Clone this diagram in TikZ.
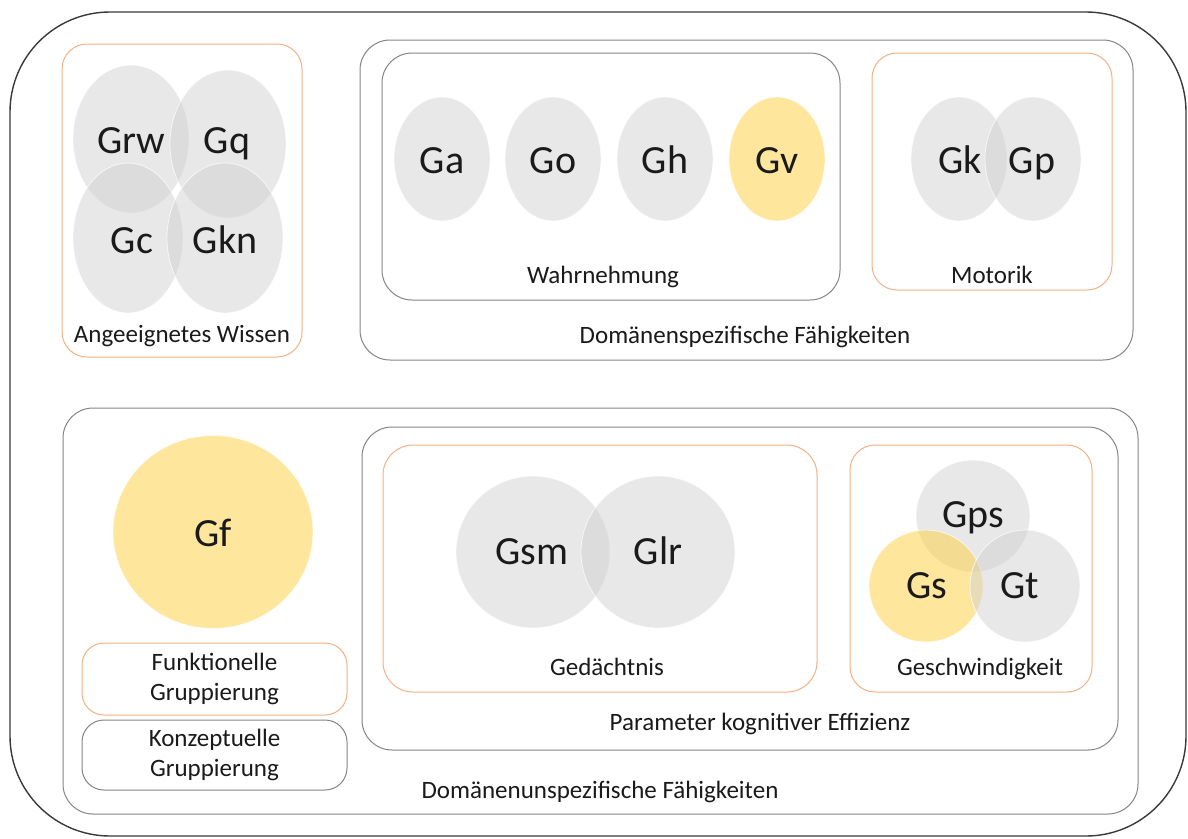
\documentclass[tikz,border=0pt]{standalone}
\usepackage{fontspec}
\setmainfont{Carlito}
\usetikzlibrary{shapes.geometric}
\definecolor{outerc}{HTML}{3A3A3A}
\definecolor{grayc}{HTML}{858585}
\definecolor{orangec}{HTML}{F4B183}
\definecolor{gfill}{RGB}{210,210,210}
\definecolor{yfill}{RGB}{255,207,60}
\definecolor{txt}{HTML}{1A1A1A}
\tikzset{
  outerbox/.style={draw=outerc, line width=1.4pt, rounded corners=100pt, inner sep=0pt},
  graybox/.style={draw=grayc, line width=1pt, rounded corners=#1, inner sep=0pt},
  graybox/.default=30pt,
  orangebox/.style={draw=orangec, line width=1pt, rounded corners=#1, inner sep=0pt},
  orangebox/.default=25pt,
  gcirc/.style={ellipse, inner sep=0pt, fill=gfill, fill opacity=0.5, draw=white, draw opacity=0.7, line width=0.8pt},
  ycirc/.style={ellipse, inner sep=0pt, fill=yfill, fill opacity=0.5, draw=white, draw opacity=0.7, line width=0.8pt},
  big/.style={anchor=base, inner sep=0pt, text=txt, font=\fontsize{40}{48}\selectfont},
  small/.style={anchor=base, inner sep=0pt, text=txt, font=\fontsize{25}{30}\selectfont},
  smallc/.style={text=txt, font=\fontsize{25}{30}\selectfont, align=center},
}
\begin{document}
\begin{tikzpicture}[x=1pt, y=-1pt]
\useasboundingbox (0,0) rectangle (1188,838);
\fill[white] (0,0) rectangle (1188,838);
% outer frame
\node[outerbox, minimum width=1176pt, minimum height=824pt] (outer) at (598,424) {};
% upper containers
\node[orangebox, minimum width=240pt, minimum height=313pt] (aw) at (182,200.5) {};
\node[graybox, minimum width=773pt, minimum height=320pt] (ds) at (746.5,200) {};
\node[graybox, minimum width=458pt, minimum height=247pt] (wn) at (611,176.5) {};
\node[orangebox, minimum width=240pt, minimum height=237pt] (mo) at (992,171.5) {};
% lower containers
\node[graybox, minimum width=1075pt, minimum height=406pt] (du) at (600.5,611) {};
\node[orangebox=22pt, minimum width=265pt, minimum height=72pt, smallc] (fg) at (214.5,679) {Funktionelle\\Gruppierung};
\node[graybox=22pt, minimum width=265pt, minimum height=70pt, smallc] (kg) at (214.5,755) {Konzeptuelle\\Gruppierung};
\node[graybox, minimum width=756pt, minimum height=323pt] (pk) at (740,588.5) {};
\node[orangebox=30pt, minimum width=434pt, minimum height=247pt] (gd) at (600,568.5) {};
\node[orangebox, minimum width=242pt, minimum height=247pt] (gs) at (971,568.5) {};
% ellipses: acquired knowledge
\node[gcirc, minimum width=116pt, minimum height=148pt] (grw) at (131,139) {};
\node[gcirc, minimum width=116pt, minimum height=148pt] (gq) at (228,144) {};
\node[gcirc, minimum width=110pt, minimum height=150pt] (gc) at (128,238) {};
\node[gcirc, minimum width=116pt, minimum height=150pt] (gkn) at (225,238) {};
% perception
\node[gcirc, minimum width=96pt, minimum height=124pt] (ga) at (442,159) {};
\node[gcirc, minimum width=96pt, minimum height=124pt] (go) at (553,159) {};
\node[gcirc, minimum width=96pt, minimum height=124pt] (gh) at (665,159) {};
\node[ycirc, minimum width=96pt, minimum height=124pt] (gv) at (777,159) {};
% motor
\node[gcirc, minimum width=96pt, minimum height=124pt] (gk) at (959,159) {};
\node[gcirc, minimum width=96pt, minimum height=124pt] (gp) at (1033,159) {};
% fluid
\node[ycirc, minimum width=200pt, minimum height=193pt] (gf) at (213,532) {};
% memory
\node[gcirc, minimum width=154pt, minimum height=152pt] (gsm) at (533,552) {};
\node[gcirc, minimum width=154pt, minimum height=152pt] (glr) at (658,552) {};
% speed
\node[gcirc, minimum width=114pt, minimum height=112pt] (gps) at (973,516) {};
\node[ycirc, minimum width=114pt, minimum height=112pt] (gsc) at (926,586) {};
\node[gcirc, minimum width=110pt, minimum height=112pt] (gt) at (1025,586) {};
% big labels
\node[big] (lgrw) at (131,153) {Grw};
\node[big] (lgq) at (227,153) {Gq};
\node[big] (lgc) at (132,253) {Gc};
\node[big] (lgkn) at (225,253) {Gkn};
\node[big] (lga) at (442,173) {Ga};
\node[big] (lgo) at (553,173) {Go};
\node[big] (lgh) at (665,173) {Gh};
\node[big] (lgv) at (777,173) {Gv};
\node[big] (lgk) at (960,173) {Gk};
\node[big] (lgp) at (1032,173) {Gp};
\node[big] (lgf) at (213,546) {Gf};
\node[big] (lgsm) at (532,564) {Gsm};
\node[big] (lglr) at (658,564) {Glr};
\node[big] (lgps) at (973,527) {Gps};
\node[big] (lgs) at (927,598) {Gs};
\node[big] (lgt) at (1020,598) {Gt};
% small labels
\node[small] (law) at (182,342) {Angeeignetes Wissen};
\node[small] (lds) at (745,343) {Domänenspezifische Fähigkeiten};
\node[small] (lwn) at (603,283) {Wahrnehmung};
\node[small] (lmo) at (992,283) {Motorik};
\node[small] (lgd) at (607,675) {Gedächtnis};
\node[small] (lgs2) at (980,675) {Geschwindigkeit};
\node[small] (lpk) at (760,730) {Parameter kognitiver Effizienz};
\node[small] (ldu) at (600,798) {Domänenunspezifische Fähigkeiten};
\end{tikzpicture}
\end{document}
